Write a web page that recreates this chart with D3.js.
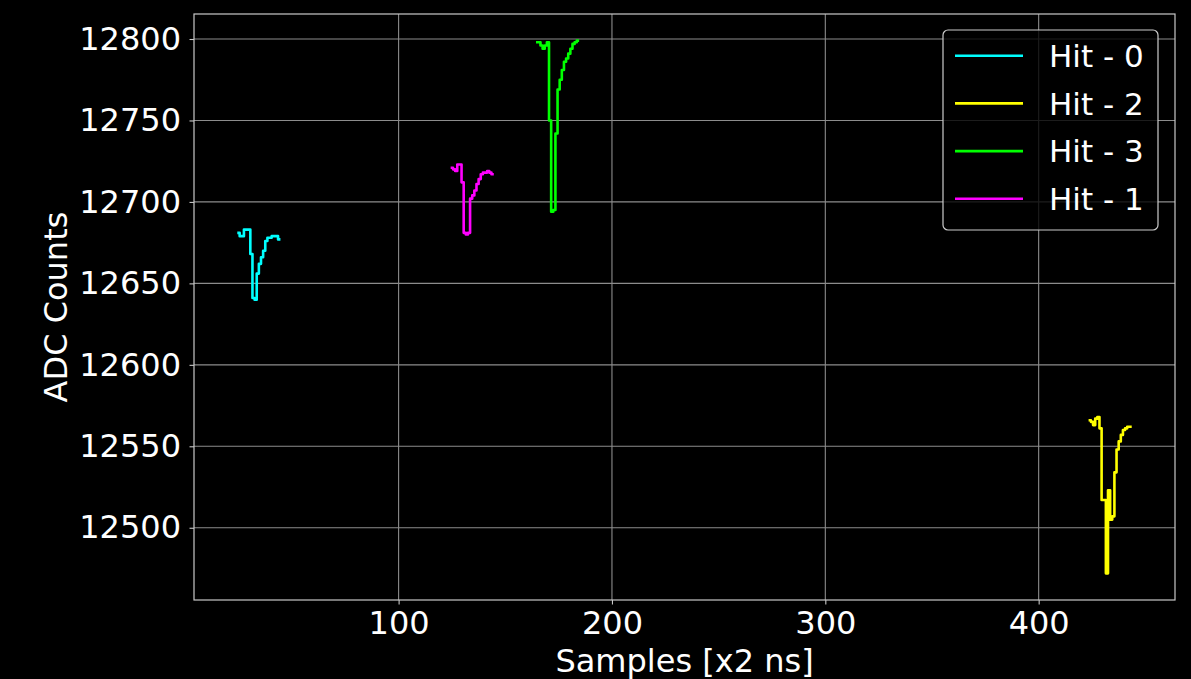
<!DOCTYPE html>
<html>
<head>
<meta charset="utf-8">
<script src="https://cdn.jsdelivr.net/npm/d3@7"></script>
<style>
  html, body { margin: 0; padding: 0; background: #000; }
  svg { display: block; }
  text { font-family: "DejaVu Sans", sans-serif; fill: #fff; }
</style>
</head>
<body>
<svg id="chart" width="1191" height="679"></svg>
<script>
// ---- data ----
const hitNames = ["Hit - 0", "Hit - 2", "Hit - 3", "Hit - 1"];
const hitColors = ["#00ffff", "#ffff00", "#00ff00", "#ff00ff"];
const hitStarts = [25, 424, 165, 125];   // first sample index of each hit window

const hit0Values = [12681, 12679, 12679, 12683, 12683, 12683, 12668, 12641, 12640, 12656,
                    12662, 12666, 12670, 12676, 12678, 12678, 12679, 12679, 12679, 12677];
const hit2Values = [12566, 12565, 12563, 12567, 12568, 12561, 12517, 12517, 12472, 12523,
                    12505, 12507, 12534, 12548, 12553, 12557, 12560, 12561, 12562, 12562];
const hit3Values = [12798, 12798, 12796, 12794, 12796, 12798, 12750, 12694, 12695, 12742,
                    12769, 12775, 12781, 12786, 12788, 12791, 12794, 12797, 12798, 12799];
const hit1Values = [12721, 12720, 12719, 12723, 12723, 12712, 12681, 12680, 12681, 12702,
                    12704, 12707, 12711, 12714, 12717, 12718, 12718, 12719, 12718, 12717];

const xTicks = [100, 200, 300, 400];
const yTicks = [12500, 12550, 12600, 12650, 12700, 12750, 12800];
const xLabel = "Samples [x2 ns]";
const yLabel = "ADC Counts";

const hitValues = [hit0Values, hit2Values, hit3Values, hit1Values];
const series = hitNames.map((name, i) => ({
  name, color: hitColors[i],
  points: hitValues[i].map((v, j) => ({ x: hitStarts[i] + j, y: v }))
}));

// ---- layout ----
const W = 1191, H = 679;
const plot = { left: 194, right: 1175, top: 14, bottom: 600 };
const svg = d3.select("#chart");

const allPts = series.flatMap(s => s.points);
const xExt = d3.extent(allPts, d => d.x);
const yExt = d3.extent(allPts, d => d.y);
const xm = (xExt[1] - xExt[0]) * 0.05, ym = (yExt[1] - yExt[0]) * 0.05;

const x = d3.scaleLinear().domain([xExt[0] - xm, xExt[1] + xm]).range([plot.left, plot.right]);
const y = d3.scaleLinear().domain([yExt[0] - ym, yExt[1] + ym]).range([plot.bottom, plot.top]);

const gridColor = "#8c8c8c";
const spineColor = "#c8c8c8";

// grid
const grid = svg.append("g");
grid.selectAll(".gx").data(xTicks).enter().append("line")
  .attr("x1", d => x(d)).attr("x2", d => x(d))
  .attr("y1", plot.top).attr("y2", plot.bottom)
  .attr("stroke", gridColor).attr("stroke-width", 1.1);
grid.selectAll(".gy").data(yTicks).enter().append("line")
  .attr("x1", plot.left).attr("x2", plot.right)
  .attr("y1", d => y(d)).attr("y2", d => y(d))
  .attr("stroke", gridColor).attr("stroke-width", 1.1);

// traces
const line = d3.line().x(d => x(d.x)).y(d => y(d.y)).curve(d3.curveStep);
svg.append("g").selectAll("path").data(series).enter().append("path")
  .attr("d", d => line(d.points))
  .attr("fill", "none")
  .attr("stroke", d => d.color)
  .attr("stroke-width", 2.6)
  .attr("stroke-linejoin", "round")
  .attr("stroke-linecap", "square");

// axes
const xAxis = d3.axisBottom(x).tickValues(xTicks).tickSize(4.5).tickPadding(7).tickFormat(d3.format("d"));
const yAxis = d3.axisLeft(y).tickValues(yTicks).tickSize(4.5).tickPadding(8.5).tickFormat(d3.format("d"));

const gx = svg.append("g").attr("transform", `translate(0,${plot.bottom})`).call(xAxis);
const gy = svg.append("g").attr("transform", `translate(${plot.left},0)`).call(yAxis);
[gx, gy].forEach(g => {
  g.select(".domain").remove();
  g.selectAll(".tick line").attr("stroke", spineColor).attr("stroke-width", 1.1);
  g.selectAll(".tick text").attr("fill", "#fff")
    .style("font-family", "'DejaVu Sans', sans-serif").style("font-size", "32px");
});

// frame (spines)
svg.append("rect")
  .attr("x", plot.left).attr("y", plot.top)
  .attr("width", plot.right - plot.left).attr("height", plot.bottom - plot.top)
  .attr("fill", "none").attr("stroke", spineColor).attr("stroke-width", 1.2);

// axis labels
svg.append("text")
  .attr("x", (plot.left + plot.right) / 2).attr("y", 672)
  .attr("text-anchor", "middle").style("font-size", "32px")
  .text(xLabel);
svg.append("text")
  .attr("transform", `translate(67,${(plot.top + plot.bottom) / 2}) rotate(-90)`)
  .attr("text-anchor", "middle").style("font-size", "32px")
  .text(yLabel);

// legend
const leg = { right: plot.right - 17, top: plot.top + 16, width: 215, height: 200, rowH: 47.7 };
const lg = svg.append("g").attr("transform", `translate(${leg.right - leg.width},${leg.top})`);
lg.append("rect")
  .attr("x", 0).attr("y", 0).attr("width", leg.width).attr("height", leg.height)
  .attr("rx", 5).attr("ry", 5)
  .attr("fill", "#000").attr("fill-opacity", 0.8)
  .attr("stroke", "#cccccc").attr("stroke-width", 1.2);
const rows = lg.selectAll(".row").data(series).enter().append("g")
  .attr("transform", (d, i) => `translate(0,${25.7 + i * leg.rowH})`);
rows.append("line")
  .attr("x1", 12).attr("x2", 80).attr("y1", 0).attr("y2", 0)
  .attr("stroke", d => d.color).attr("stroke-width", 2.6);
rows.append("text")
  .attr("x", 106).attr("y", 0).attr("dy", "0.36em")
  .style("font-size", "31px")
  .text(d => d.name);
</script>
</body>
</html>
